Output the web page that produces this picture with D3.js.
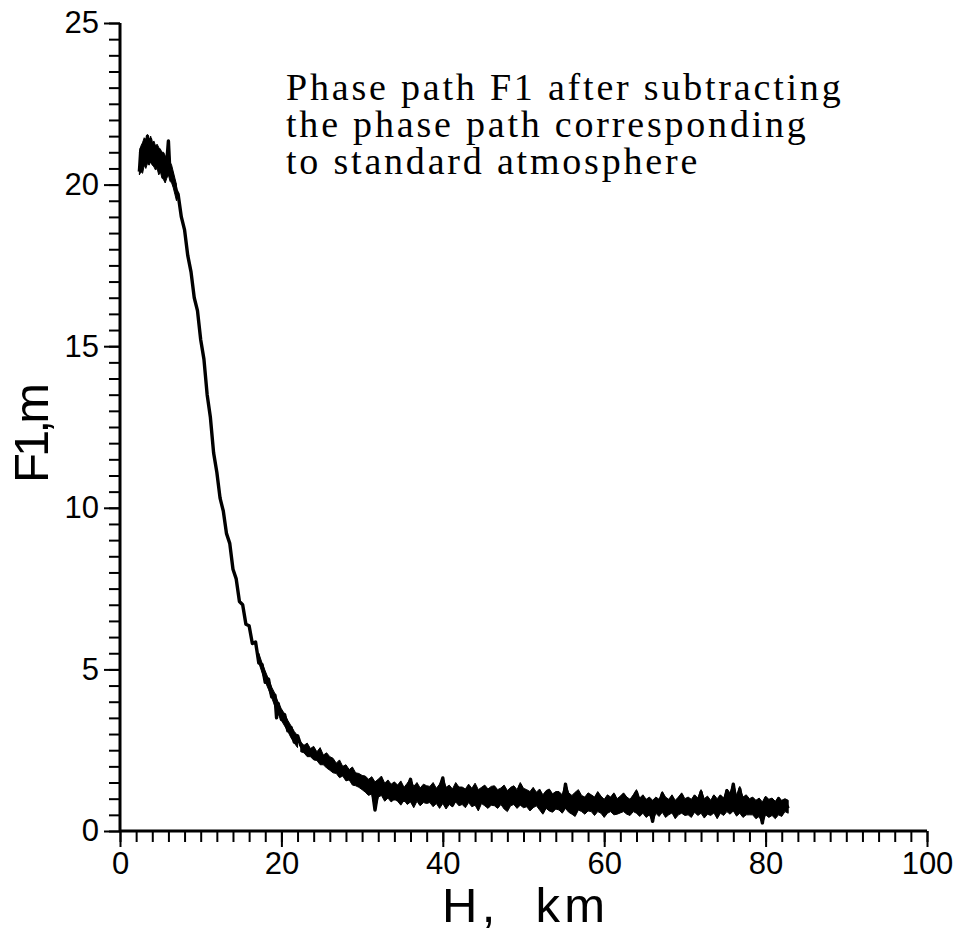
<!DOCTYPE html>
<html>
<head>
<meta charset="utf-8">
<script src="https://cdn.jsdelivr.net/npm/d3@7"></script>
<style>
  body { margin: 0; background: #fff; }
  text { fill: #000; }
</style>
</head>
<body>
<script>
// values (H in km, F1 in m)
const headH = [2.4, 2.6, 2.8, 3.0, 3.2, 3.4, 3.6, 3.8, 4.0, 4.2, 4.4, 4.6,
  4.8, 5.0, 5.2, 5.4, 5.6, 5.8, 6.0, 6.2, 6.4, 6.6, 6.8, 7.0];
const headF = [20.4, 21.1, 20.6, 21.3, 20.7, 21.5, 20.9, 21.4, 20.8, 21.2, 20.7, 21.1,
  20.6, 20.9, 20.5, 20.8, 20.3, 20.7, 21.35, 20.3, 20.4, 20.1, 20.0, 19.8];
// upper / lower edge of the noisy blob at the start
const headTop = [21.0, 21.2, 21.3, 21.45, 21.4, 21.55, 21.35, 21.5, 21.3, 21.35, 21.2, 21.25,
  21.15, 21.1, 21.0, 21.0, 20.9, 20.85, 21.35, 20.7, 20.6, 20.4, 20.2, 20.0];
const headBottom = [20.3, 20.4, 20.35, 20.6, 20.5, 20.65, 20.6, 20.7, 20.6, 20.55, 20.45, 20.5,
  20.3, 20.4, 20.2, 20.15, 20.05, 20.2, 20.3, 20.1, 20.05, 19.9, 19.7, 19.5];

const steepH = [7.2, 7.6, 8.0, 8.4, 8.8, 9.2, 9.6, 10.0, 10.4, 10.8,
  11.2, 11.6, 12.0, 12.4, 12.8, 13.2, 13.6, 14.0, 14.4, 14.8,
  15.2, 15.6, 16.0, 16.4, 16.8, 17.2, 17.6, 18.0, 18.4, 18.8,
  19.2, 19.4, 19.6, 20.0, 20.4, 20.8, 21.2, 21.6, 22.0];
const steepF = [19.7, 19.0, 18.6, 17.8, 17.3, 16.5, 16.1, 15.2, 14.6, 13.5,
  12.8, 11.7, 11.1, 10.3, 9.9, 9.2, 8.9, 8.1, 7.8, 7.1,
  7.0, 6.4, 6.35, 5.8, 5.85, 5.2, 5.15, 4.6, 4.7, 4.15,
  4.2, 3.5, 3.95, 3.45, 3.6, 3.1, 3.2, 2.75, 2.95];
// narrow noise band on the lower part of the drop
const midH = [17.2, 17.6, 18.0, 18.4, 18.8, 19.2, 19.6, 20.0, 20.4, 20.8, 21.2, 21.6, 22.0];
const midTop = [5.5, 5.2, 4.95, 4.7, 4.45, 4.25, 3.98, 3.78, 3.62, 3.42, 3.25, 3.08, 2.95];
const midBottom = [5.2, 4.9, 4.62, 4.38, 4.12, 3.85, 3.62, 3.42, 3.25, 3.08, 2.88, 2.72, 2.58];

const tailH = [
  22.4, 22.8, 23.2, 23.6, 24.0, 24.4, 24.8, 25.2, 25.6, 26.0,
  26.4, 26.8, 27.2, 27.6, 28.0, 28.4, 28.8, 29.2, 29.6, 30.0,
  30.4, 30.8, 31.2, 31.6, 32.0, 32.4, 32.8, 33.2, 33.6, 34.0,
  34.4, 34.8, 35.2, 35.6, 36.0, 36.4, 36.8, 37.2, 37.6, 38.0,
  38.4, 38.8, 39.2, 39.6, 40.0, 40.4, 40.8, 41.2, 41.6, 42.0,
  42.4, 42.8, 43.2, 43.6, 44.0, 44.4, 44.8, 45.2, 45.6, 46.0,
  46.4, 46.8, 47.2, 47.6, 48.0, 48.4, 48.8, 49.2, 49.6, 50.0,
  50.4, 50.8, 51.2, 51.6, 52.0, 52.4, 52.8, 53.2, 53.6, 54.0,
  54.4, 54.8, 55.2, 55.6, 56.0, 56.4, 56.8, 57.2, 57.6, 58.0,
  58.4, 58.8, 59.2, 59.6, 60.0, 60.4, 60.8, 61.2, 61.6, 62.0,
  62.4, 62.8, 63.2, 63.6, 64.0, 64.4, 64.8, 65.2, 65.6, 66.0,
  66.4, 66.8, 67.2, 67.6, 68.0, 68.4, 68.8, 69.2, 69.6, 70.0,
  70.4, 70.8, 71.2, 71.6, 72.0, 72.4, 72.8, 73.2, 73.6, 74.0,
  74.4, 74.8, 75.2, 75.6, 76.0, 76.4, 76.8, 77.2, 77.6, 78.0,
  78.4, 78.8, 79.2, 79.6, 80.0, 80.4, 80.8, 81.2, 81.6, 82.0,
  82.4, 82.8];
const tailF = [
  2.65, 2.5, 2.58, 2.45, 2.3, 2.4, 2.25, 2.15, 2.2, 2.0,
  2.1, 1.85, 1.95, 1.8, 1.7, 1.8, 1.55, 1.7, 1.5, 1.45,
  1.55, 1.3, 1.4, 0.65, 1.3, 1.45, 1.05, 1.3, 1.2, 1.0,
  1.35, 1.05, 0.95, 1.3, 1.6, 1.0, 1.2, 0.85, 1.3, 1.1,
  1.25, 0.9, 1.1, 1.3, 1.64, 0.95, 1.15, 0.8, 1.3, 1.05,
  1.2, 0.85, 1.3, 1.0, 1.35, 0.8, 1.05, 1.25, 0.9, 1.1,
  1.3, 0.8, 1.0, 1.25, 0.75, 1.1, 1.3, 0.9, 1.4, 0.95,
  1.15, 0.75, 1.2, 0.95, 1.1, 0.6, 0.95, 1.15, 0.8, 0.95,
  1.1, 0.7, 1.45, 0.85, 0.95, 0.6, 1.15, 0.9, 0.75, 1.0,
  0.95, 0.6, 1.1, 0.8, 0.6, 1.0, 0.85, 1.1, 0.65, 0.9,
  1.1, 0.65, 0.9, 1.0, 1.2, 0.6, 0.95, 0.55, 0.8, 0.3,
  0.95, 0.7, 1.15, 0.6, 0.85, 1.0, 0.55, 0.95, 1.1, 0.65,
  0.9, 0.55, 1.05, 0.8, 1.2, 0.6, 0.9, 0.7, 1.05, 0.5,
  1.05, 0.7, 1.25, 0.9, 1.45, 0.75, 1.3, 0.55, 1.0, 0.75,
  0.95, 0.5, 0.85, 0.25, 1.0, 0.6, 0.9, 0.7, 1.0, 0.55,
  0.9, 0.7];
// upper / lower edge of the noise band in the tail
const tailTop = [
  2.75, 2.65, 2.72, 2.55, 2.62, 2.45, 2.58, 2.35, 2.42, 2.3,
  2.25, 2.1, 2.2, 2.0, 2.05, 1.9, 1.98, 1.8, 1.78, 1.72,
  1.7, 1.6, 1.68, 1.52, 1.6, 1.7, 1.48, 1.58, 1.45, 1.52,
  1.42, 1.55, 1.35, 1.48, 1.62, 1.38, 1.5, 1.33, 1.45, 1.4,
  1.38, 1.5, 1.32, 1.45, 1.66, 1.35, 1.42, 1.3, 1.5, 1.36,
  1.36, 1.3, 1.45, 1.32, 1.48, 1.28, 1.35, 1.42, 1.3, 1.38,
  1.4, 1.28, 1.33, 1.42, 1.25, 1.35, 1.4, 1.28, 1.5, 1.32,
  1.28, 1.22, 1.35, 1.2, 1.3, 1.12, 1.25, 1.3, 1.15, 1.22,
  1.22, 1.12, 1.48, 1.18, 1.1, 1.2, 1.28, 1.1, 1.05, 1.18,
  1.12, 1.05, 1.22, 1.08, 0.98, 1.12, 1.05, 1.18, 1.0, 1.08,
  1.18, 1.05, 0.98, 1.12, 1.28, 1.02, 1.12, 0.98, 1.05, 0.95,
  1.05, 0.98, 1.22, 1.05, 0.98, 1.12, 0.95, 1.05, 1.18, 1.0,
  1.05, 0.98, 1.12, 1.02, 1.28, 1.0, 1.08, 0.95, 1.12, 1.0,
  1.12, 1.02, 1.3, 1.18, 1.48, 1.1, 1.38, 1.05, 1.12, 1.0,
  1.05, 0.95, 1.02, 0.9, 1.08, 0.98, 1.02, 0.92, 1.05, 0.95,
  1.0, 0.95];
const tailBottom = [
  2.45, 2.42, 2.3, 2.3, 2.2, 2.18, 2.05, 2.05, 1.95, 1.88,
  1.8, 1.78, 1.65, 1.7, 1.55, 1.58, 1.42, 1.4, 1.35, 1.28,
  1.2, 1.1, 1.15, 0.65, 1.05, 1.1, 0.92, 1.02, 0.9, 0.98,
  0.92, 0.8, 0.95, 0.82, 0.9, 0.72, 0.92, 0.78, 0.88, 0.85,
  0.88, 0.75, 0.85, 0.7, 0.85, 0.68, 0.82, 0.75, 0.9, 0.78,
  0.82, 0.72, 0.88, 0.75, 0.8, 0.62, 0.85, 0.78, 0.7, 0.8,
  0.78, 0.7, 0.82, 0.68, 0.6, 0.78, 0.82, 0.7, 0.8, 0.72,
  0.75, 0.62, 0.72, 0.78, 0.65, 0.52, 0.7, 0.62, 0.58, 0.68,
  0.65, 0.55, 0.7, 0.58, 0.52, 0.45, 0.65, 0.6, 0.52, 0.62,
  0.6, 0.48, 0.6, 0.55, 0.42, 0.55, 0.6, 0.5, 0.52, 0.56,
  0.6, 0.52, 0.48, 0.6, 0.55, 0.45, 0.55, 0.42, 0.5, 0.28,
  0.55, 0.45, 0.58, 0.42, 0.5, 0.56, 0.38, 0.5, 0.55, 0.48,
  0.5, 0.42, 0.58, 0.48, 0.55, 0.4, 0.52, 0.48, 0.56, 0.38,
  0.55, 0.48, 0.6, 0.52, 0.62, 0.46, 0.55, 0.42, 0.5, 0.5,
  0.5, 0.38, 0.45, 0.22, 0.5, 0.42, 0.48, 0.38, 0.5, 0.45,
  0.6, 0.55];

const xMajor = [0, 20, 40, 60, 80, 100];
const yMajor = [0, 5, 10, 15, 20, 25];
const titleLines = [
  "Phase path F1 after subtracting",
  "the phase path corresponding",
  "to standard atmosphere"
];

//-----------------
const w = 959;
const h = 934;

const hs = headH.concat(steepH, tailH);
const fs = headF.concat(steepF, tailF);
const dataset = hs.map((d, i) => [d, fs[i]]);
const headBand = headH.map((d, i) => [d, headBottom[i], headTop[i]]);
const midBand = midH.map((d, i) => [d, midBottom[i], midTop[i]]);
const tailBand = tailH.map((d, i) => [d, tailBottom[i], tailTop[i]]);

const xScale = d3.scaleLinear().domain([0, 100]).range([120, 927]);
const yScale = d3.scaleLinear().domain([0, 25]).range([831, 23]);

const svg = d3
  .select("body")
  .append("svg")
  .attr("width", w)
  .attr("height", h)
  .style("font-family", "'Liberation Sans', Arial, sans-serif");

svg.append("rect").attr("width", w).attr("height", h).attr("fill", "#fff");

// minor ticks
const xMinor = d3.axisBottom(xScale).tickValues(d3.range(0, 101, 2)).tickSize(11).tickFormat("");
const yMinor = d3.axisLeft(yScale).tickValues(d3.range(0, 25.01, 0.5)).tickSize(11).tickFormat("");
// major ticks
const xAxis = d3.axisBottom(xScale).tickValues(xMajor).tickSize(16).tickPadding(5).tickFormat(d3.format("d"));
const yAxis = d3.axisLeft(yScale).tickValues(yMajor).tickSize(16).tickPadding(5).tickFormat(d3.format("d"));

[xMinor, xAxis].forEach((ax) => {
  svg
    .append("g")
    .attr("transform", "translate(0, " + yScale(0) + ")")
    .call(ax);
});
[yMinor, yAxis].forEach((ax) => {
  svg
    .append("g")
    .attr("transform", "translate(" + xScale(0) + ", 0)")
    .call(ax);
});

svg.selectAll(".domain").remove();
svg.selectAll(".tick line").attr("stroke", "#000").attr("stroke-width", 2);
svg
  .selectAll(".tick text")
  .attr("font-size", 31)
  .attr("fill", "#000");

// axis lines
svg
  .append("line")
  .attr("x1", xScale(0))
  .attr("x2", xScale(100))
  .attr("y1", yScale(0))
  .attr("y2", yScale(0))
  .attr("stroke", "#000")
  .attr("stroke-width", 3);
svg
  .append("line")
  .attr("x1", xScale(0))
  .attr("x2", xScale(0))
  .attr("y1", yScale(0))
  .attr("y2", yScale(25))
  .attr("stroke", "#000")
  .attr("stroke-width", 3);

// axis titles
svg
  .append("text")
  .attr("x", (xScale(0) + xScale(100)) / 2)
  .attr("y", 922)
  .attr("text-anchor", "middle")
  .attr("font-size", 49)
  .attr("textLength", 163)
  .style("white-space", "pre")
  .text("H,  km");

svg
  .append("text")
  .attr("transform", "translate(48, " + 433 + ") rotate(-90)")
  .attr("text-anchor", "middle")
  .attr("font-size", 49)
  .attr("textLength", 100)
  .text("F1,m");

// note in the top right, one text block with three lines
svg
  .append("text")
  .attr("font-family", "'Liberation Serif', 'Times New Roman', serif")
  .attr("font-size", 38)
  .attr("letter-spacing", 2.8)
  .selectAll("tspan")
  .data(titleLines)
  .enter()
  .append("tspan")
  .attr("x", 286)
  .attr("y", (d, i) => 100 + i * 37)
  .text((d) => d);

// noise band
const band = d3
  .area()
  .x((d) => xScale(d[0]))
  .y0((d) => yScale(d[1]))
  .y1((d) => yScale(d[2]));

svg
  .selectAll(".band")
  .data([headBand, midBand, tailBand])
  .enter()
  .append("path")
  .attr("class", "band")
  .attr("d", band)
  .attr("fill", "#000")
  .attr("stroke", "#000")
  .attr("stroke-width", 1);

// the curve
const line = d3
  .line()
  .x((d) => xScale(d[0]))
  .y((d) => yScale(d[1]));

svg
  .append("path")
  .datum(dataset)
  .attr("d", line)
  .attr("fill", "none")
  .attr("stroke", "#000")
  .attr("stroke-width", 3.4)
  .attr("stroke-linejoin", "round");
</script>
</body>
</html>
